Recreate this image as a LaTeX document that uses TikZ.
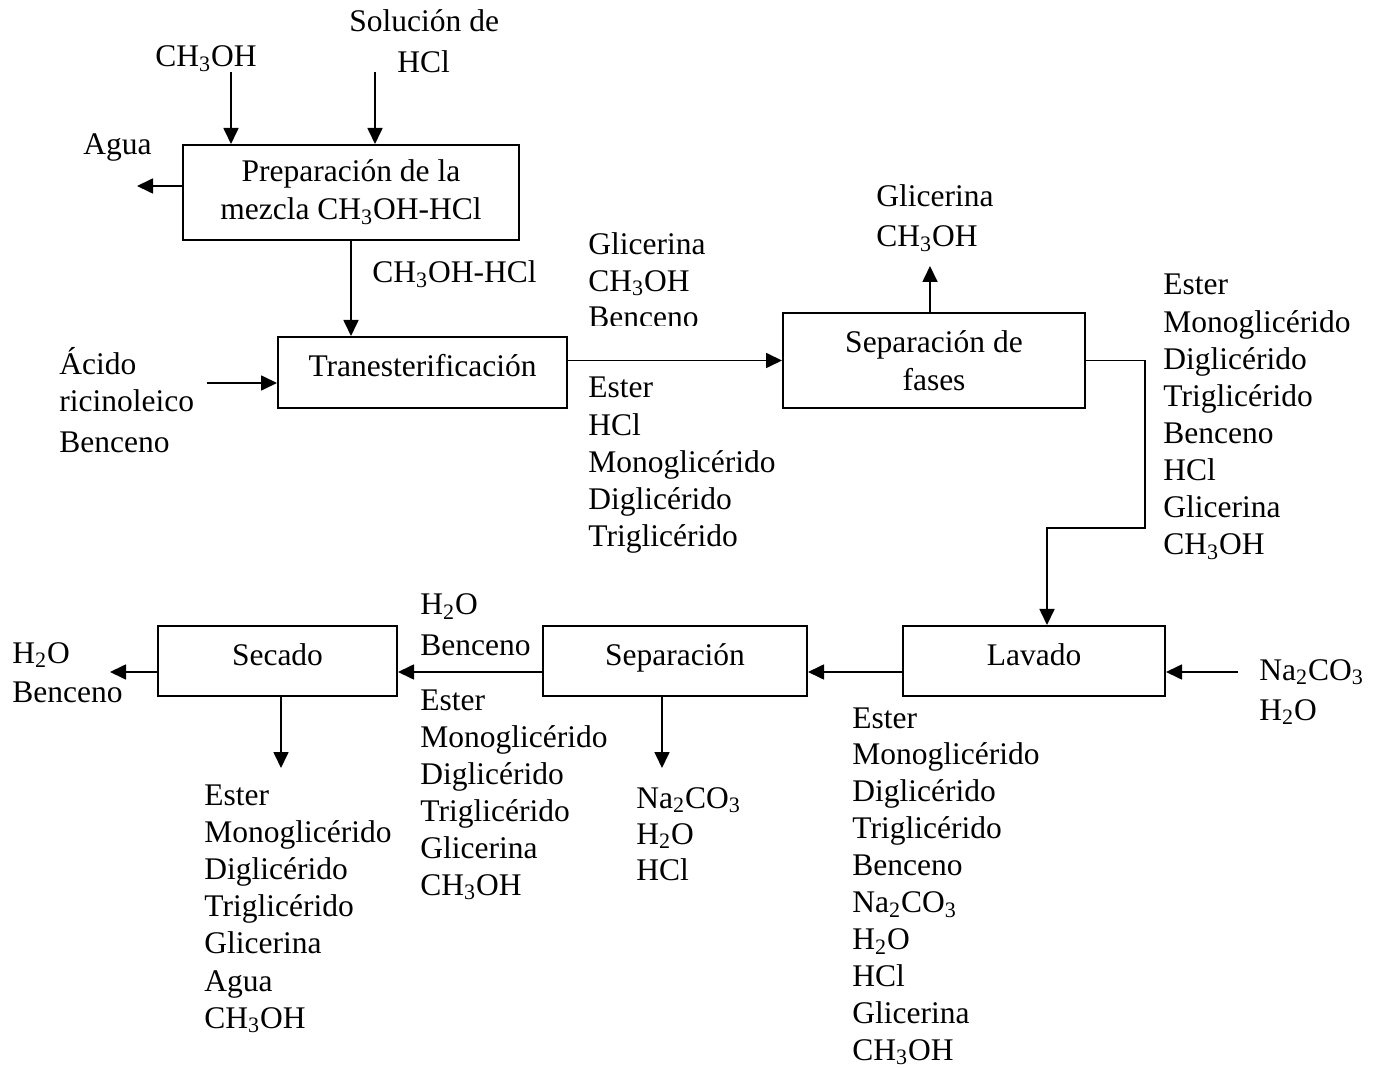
\documentclass[tikz,border=0pt]{standalone}
\usepackage{fontspec}
\setmainfont{Liberation Serif}
\usetikzlibrary{arrows.meta}
\newcommand{\CHOH}{CH\textsubscript{3}OH}
\newcommand{\HdO}{H\textsubscript{2}O}
\newcommand{\NaCO}{Na\textsubscript{2}CO\textsubscript{3}}

\begin{document}
\begin{tikzpicture}[x=0.5pt,y=-0.5pt,font=\fontsize{15.75}{19}\selectfont,proc/.style n args={2}{draw,line width=1pt,minimum width=#1*0.5pt,minimum height=#2*0.5pt,inner sep=0pt},oneline/.style={text height=0.7em,text depth=0.3em},lbl/.style={anchor=base west,inner sep=0pt},flow/.style={line width=0.85pt,-{Triangle[length=8pt,width=7.5pt]}}]
\useasboundingbox (0,0) rectangle (1380,1068);
\node[proc={336}{95},align=center] (prep) at (351,192.5) {Preparación de la\\mezcla \CHOH-HCl};
\node[proc={289}{71},oneline] (trans) at (422.5,372.5) {Tranesterificación};
\node[proc={302}{95},align=center] (sepf) at (934,360.5) {Separación de\\fases};
\node[proc={262}{70},oneline] (lav) at (1034,661) {Lavado};
\node[proc={264}{70},oneline] (sepb) at (675,661) {Separación};
\node[proc={239}{70},oneline] (sec) at (277.5,661) {Secado};
\node[lbl] (solA) at (349,32) {Solución de};
\node[lbl] (solB) at (397,73) {HCl};
\node[lbl] (met) at (155,67) {\CHOH};
\node[lbl] (agua) at (83,155) {Agua};
\node[lbl] (mezc) at (372,283) {\CHOH-HCl};
\node[lbl] (acA) at (59,375) {Ácido};
\node[lbl] (acB) at (59,412) {ricinoleico};
\node[lbl] (acC) at (59,453) {Benceno};
\node[lbl] (glA) at (876,207) {Glicerina};
\node[lbl] (glB) at (876,247) {\CHOH};
\begin{scope}
\clip (580,220) rectangle (780,326);
\foreach \txt [count=\i from 0] in {Glicerina,\CHOH,Benceno} {
   \node[lbl] (trU\i) at (588,255+36.3*\i) {\txt};
}
\end{scope}
\foreach \txt [count=\i from 0] in %
{Ester,HCl,Monoglicérido,Diglicérido,Triglicérido} {
   \node[lbl] (trD\i) at (588,398+37.2*\i) {\txt};
}
\foreach \txt [count=\i from 0] in %
{Ester,Monoglicérido,Diglicérido,Triglicérido,Benceno,HCl,Glicerina,\CHOH} {
   \node[lbl] (sfR\i) at (1163,295+37.1*\i) {\txt};
}
\node[lbl] (naA) at (1259,680) {\NaCO};
\node[lbl] (naB) at (1259,720) {\HdO};
\foreach \txt [count=\i from 0] in %
{Ester,Monoglicérido,Diglicérido,Triglicérido,Benceno,\NaCO,\HdO,HCl,Glicerina,\CHOH} {
   \node[lbl] (lvD\i) at (852,728+36.9*\i) {\txt};
}
\foreach \txt [count=\i from 0] in %
{\NaCO,\HdO,HCl} {
   \node[lbl] (spD\i) at (636,808+36*\i) {\txt};
}
\node[lbl] (spA) at (420,615) {\HdO};
\node[lbl] (spB) at (420,655) {Benceno};
\foreach \txt [count=\i from 0] in %
{Ester,Monoglicérido,Diglicérido,Triglicérido,Glicerina,\CHOH} {
   \node[lbl] (spL\i) at (420,710+37*\i) {\txt};
}
\node[lbl] (seA) at (12,663) {\HdO};
\node[lbl] (seB) at (12,702) {Benceno};
\foreach \txt [count=\i from 0] in %
{Ester,Monoglicérido,Diglicérido,Triglicérido,Glicerina,Agua,\CHOH} {
   \node[lbl] (seD\i) at (204,805+37.2*\i) {\txt};
}
\coordinate (inM) at (231,72);
\coordinate (inH) at (375,72);
\coordinate (outAg) at (137,186);
\coordinate (inAc) at (207,383);
\coordinate (outG) at (930,266);
\coordinate (bendA) at (1145,528);
\coordinate (bendB) at (1047,528);
\coordinate (inNa) at (1238,672);
\coordinate (outH) at (110,672);
\coordinate (outS) at (662,768);
\coordinate (outD) at (281,768);
\draw[flow] (inM) -- (inM |- prep.north);
\draw[flow] (inH) -- (inH |- prep.north);
\draw[flow] (prep.west |- outAg) -- (outAg);
\draw[flow] (prep.south) -- (prep.south |- trans.north);
\draw[flow] (inAc) -- (inAc -| trans.west);
\draw[flow] (trans.east |- sepf.west) -- (sepf.west);
\draw[flow] (outG |- sepf.north) -- (outG);
\draw[flow] (sepf.east) -| (bendA) -- (bendB) -- (bendB |- lav.north);
\draw[flow] (inNa) -- (inNa -| lav.east);
\draw[flow] ([yshift=-5.5pt]lav.west) -- ([yshift=-5.5pt]sepb.east);
\draw[flow] ([yshift=-5.5pt]sepb.west) -- ([yshift=-5.5pt]sec.east);
\draw[flow] (outH -| sec.west) -- (outH);
\draw[flow] (outS |- sepb.south) -- (outS);
\draw[flow] (outD |- sec.south) -- (outD);
\end{tikzpicture}
\end{document}
